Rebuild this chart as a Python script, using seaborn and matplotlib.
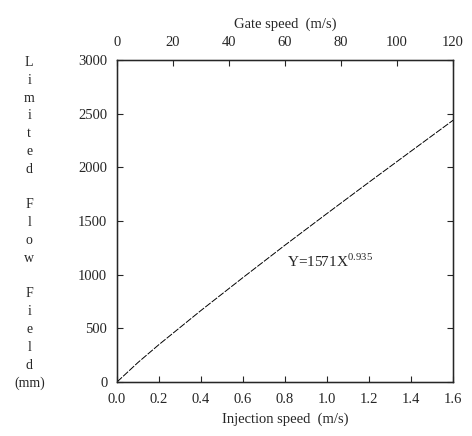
import matplotlib
matplotlib.use("Agg")
import matplotlib.pyplot as plt
import seaborn as sns
import pandas as pd

# values (fitted line Y = 1571 X^0.935)
injection_speed = [0.0, 0.1, 0.2, 0.4, 0.6, 0.8, 1.0, 1.2, 1.4, 1.6]
flow_field = [0, 182, 349, 667, 974, 1276, 1571, 1863, 2152, 2440]
x_ticks = [0.0, 0.2, 0.4, 0.6, 0.8, 1.0, 1.2, 1.4, 1.6]
y_ticks = [0, 500, 1000, 1500, 2000, 2500, 3000]
gate_ticks = [0, 20, 40, 60, 80, 100, 120]

df = pd.DataFrame({'inj': injection_speed, 'lff': flow_field})

sns.set_style('ticks')
plt.rcParams['font.family'] = ['Liberation Serif', 'DejaVu Serif']
plt.rcParams['mathtext.fontset'] = 'custom'
plt.rcParams['mathtext.rm'] = 'Liberation Serif'
plt.rc('font', size=10)

fig = plt.figure(figsize=(4.72, 4.36), dpi=100)
ax = fig.add_axes([0.248, 0.124, 0.712, 0.738])

sns.lineplot(data=df, x='inj', y='lff', ax=ax, color='black', lw=0.7,
             linestyle=(0, (7, 1.5)))

ax.set_xlim(0, 1.6)
ax.set_ylim(0, 3000)
ax.set_xticks(x_ticks)
ax.set_xticklabels([f'{v:.1f}' for v in x_ticks])
ax.set_yticks(y_ticks)
ax.tick_params(direction='in', length=4, width=0.8, right=True, labelsize=10.5)
ax.tick_params(axis='x', pad=8)
ax.tick_params(axis='y', pad=7)
for s in ax.spines.values():
    s.set_linewidth(1.0)
    s.set_color('black')
ax.set_xlabel('Injection speed  (m/s)', fontsize=10.5, labelpad=5)
ax.set_ylabel('')

top = ax.twiny()
top.set_xlim(0, 120)
top.set_xticks(gate_ticks)
top.tick_params(direction='in', length=4, width=0.8, labelsize=10.5, pad=8)
top.set_xlabel('Gate speed  (m/s)', fontsize=10.5, labelpad=6)

ax.text(0.81, 1120, r'Y=1571X$^{\mathrm{0.935}}$', fontsize=11, va='center')

ylab = 'L\ni\nm\ni\nt\ne\nd\n \nF\nl\no\nw\n \nF\ni\ne\nl\nd\n(mm)'
fig.text(0.062, (436 - 223) / 436, ylab, ha='center', va='center',
         fontsize=10, linespacing=1.48)

plt.savefig('out.png', dpi=100)
